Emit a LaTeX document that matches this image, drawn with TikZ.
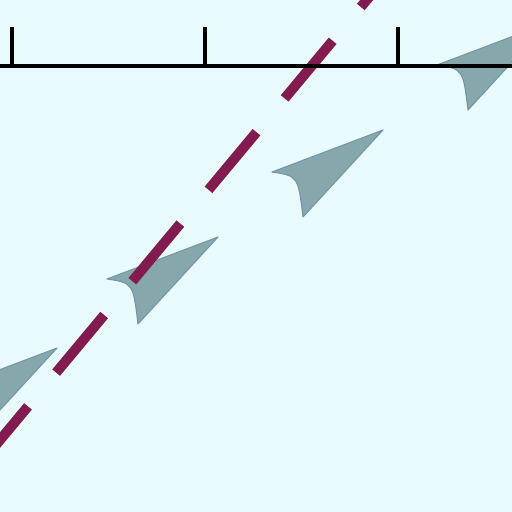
\documentclass[tikz,border=0pt]{standalone}
\usetikzlibrary{calc}
\definecolor{Sky}{HTML}{E9FAFC}
\definecolor{Berry}{HTML}{821C50}
\definecolor{Slate}{HTML}{86A7AB}
\definecolor{SlateEdge}{HTML}{7296A6}
\tikzset{
  axisline/.style={draw=black, line width=2.4pt},
  tickmark/.style={draw=black, line width=2.4pt},
  trail/.style={draw=Berry, line width=5.7pt, dash pattern=on 1.5cm off 0.88cm},
  vane/.style={fill=Slate, draw=SlateEdge, line width=0.6pt, line join=round}
}

\begin{document}
\begin{tikzpicture}[x=0.02cm,y=-0.02cm]
    \useasboundingbox (0,0) rectangle (512,512);
    \fill[Sky] (0,0) rectangle (512,512);
    \clip (0,0) rectangle (512,512);

    % arrowheads along the diagonal
    \path[vane,shift={(-104,459)}] (0,0) -- (-111,42) .. controls (-85,46) .. (-80,87) -- cycle;
    \path[vane,shift={(57,348)}] (0,0) -- (-111,42) .. controls (-85,46) .. (-80,87) -- cycle;
    \path[vane,shift={(218,237)}] (0,0) -- (-111,42) .. controls (-85,46) .. (-80,87) -- cycle;
    \path[vane,shift={(383,130)}] (0,0) -- (-111,42) .. controls (-85,46) .. (-80,87) -- cycle;
    \path[vane,shift={(548,23)}] (0,0) -- (-111,42) .. controls (-85,46) .. (-80,87) -- cycle;

    % dashed line
    \coordinate (lo) at (-20,464); \coordinate (hi) at (380,-16);
    \draw[trail] (lo) -- (hi);

    % axis with ticks
    \coordinate (a0) at (-5,66); \coordinate (a1) at (517,66);
    \draw[axisline] (a0) -- (a1);
    \coordinate (t1) at (12,66); \coordinate (t2) at (205,66); \coordinate (t3) at (398,66);
    \draw[tickmark] (t1) -- ++(0,-39); \draw[tickmark] (t2) -- ++(0,-39);
    \draw[tickmark] (t3) -- ++(0,-39);
  \end{tikzpicture}
\end{document}
